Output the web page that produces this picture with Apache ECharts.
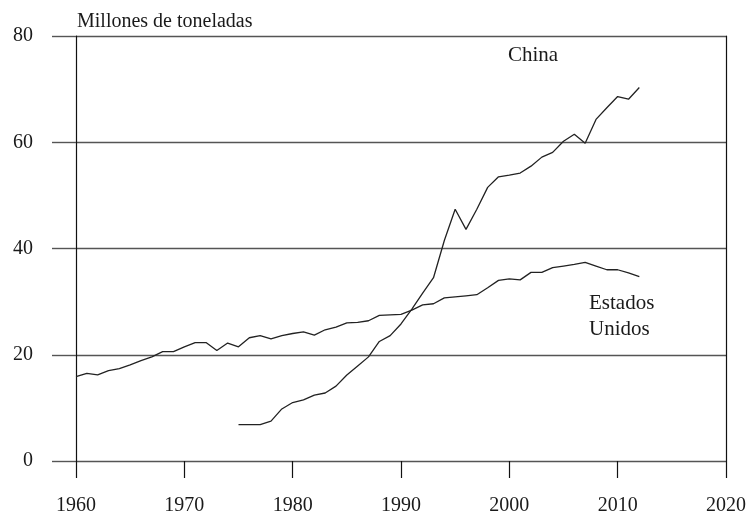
<!DOCTYPE html>
<html lang="es">
<head>
<meta charset="UTF-8">
<title>Millones de toneladas</title>
<script src="https://cdn.jsdelivr.net/npm/echarts@6/dist/echarts.min.js"></script>
<style>
  html, body { margin: 0; padding: 0; background: #fff; }
  #main { width: 749px; height: 523px; }
</style>
</head>
<body>
<div id="main"></div>
<script>
// años y toneladas (millones)
var usYears = [];
for (var y = 1960; y <= 2012; y++) usYears.push(y);
var usValues = [15.9, 16.5, 16.2, 17.0, 17.4, 18.1, 18.9, 19.6, 20.6, 20.6,
  21.5, 22.3, 22.3, 20.8, 22.2, 21.5, 23.2, 23.6, 23.0, 23.6,
  24.0, 24.3, 23.7, 24.7, 25.2, 26.0, 26.1, 26.4, 27.4, 27.5,
  27.6, 28.4, 29.4, 29.6, 30.7, 30.9, 31.1, 31.3, 32.6, 34.0,
  34.3, 34.1, 35.5, 35.5, 36.4, 36.7, 37.0, 37.4, 36.7, 36.0,
  36.0, 35.4, 34.7];

var chinaYears = [];
for (var y2 = 1975; y2 <= 2012; y2++) chinaYears.push(y2);
var chinaValues = [6.85, 6.85, 6.85, 7.5, 9.8, 11.0, 11.5, 12.4, 12.8, 14.1,
  16.2, 17.9, 19.6, 22.5, 23.6, 25.8, 28.6, 31.6, 34.5, 41.5,
  47.4, 43.6, 47.4, 51.5, 53.5, 53.8, 54.2, 55.5, 57.2, 58.1,
  60.2, 61.5, 59.8, 64.3, 66.5, 68.6, 68.1, 70.3];

var yTicks = [0, 20, 40, 60, 80];
var xTicks = [1960, 1970, 1980, 1990, 2000, 2010, 2020];

function pairs(xs, vs) {
  return xs.map(function (x, i) { return [x, vs[i]]; });
}

var font = '"Liberation Serif", "DejaVu Serif", serif';
var chart = echarts.init(document.getElementById('main'));

var option = {
  animation: false,
  backgroundColor: '#fff',
  title: {
    text: 'Millones de toneladas',
    left: 72,
    top: 7,
    textStyle: { fontFamily: font, fontSize: 20, fontWeight: 'normal', color: '#1a1a1a' }
  },
  grid: { left: 76, right: 21, top: 36, bottom: 62 },
  xAxis: {
    type: 'value',
    min: xTicks[0],
    max: xTicks[xTicks.length - 1],
    interval: 10,
    axisLine: { show: false },
    axisTick: { show: true, length: 17, lineStyle: { color: '#111', width: 1.2 } },
    splitLine: { show: false },
    axisLabel: {
      margin: 35, fontFamily: font, fontSize: 20, color: '#1a1a1a',
      formatter: function (v) { return String(v); }
    }
  },
  yAxis: [{
    type: 'value',
    min: yTicks[0],
    max: yTicks[yTicks.length - 1],
    interval: 20,
    axisLine: { show: true, lineStyle: { color: '#111', width: 1.2 } },
    axisTick: { show: true, length: 24, lineStyle: { color: '#555', width: 1.4 } },
    splitLine: { show: true, lineStyle: { color: '#555', width: 1.4 } },
    axisLabel: { margin: 43, fontFamily: font, fontSize: 20, color: '#1a1a1a', padding: [0, 0, 10, 0] }
  }, {
    type: 'value',
    position: 'right',
    min: 0,
    max: 80,
    interval: 20,
    axisLine: { show: true, lineStyle: { color: '#111', width: 1.2 } },
    axisTick: { show: false },
    axisLabel: { show: false },
    splitLine: { show: false }
  }],
  graphic: [{
    type: 'text',
    left: 508,
    top: 45,
    style: { text: 'China', font: '21px ' + font, fill: '#1a1a1a' }
  }, {
    type: 'text',
    left: 589,
    top: 290,
    style: { text: 'Estados\nUnidos', font: '21px ' + font, fill: '#1a1a1a', lineHeight: 26 }
  }],
  series: [{
    name: 'Estados Unidos',
    type: 'line',
    data: pairs(usYears, usValues),
    showSymbol: false,
    lineStyle: { color: '#222', width: 1.3 }
  }, {
    name: 'China',
    type: 'line',
    data: pairs(chinaYears, chinaValues),
    showSymbol: false,
    lineStyle: { color: '#222', width: 1.3 }
  }]
};

chart.setOption(option);
</script>
</body>
</html>
